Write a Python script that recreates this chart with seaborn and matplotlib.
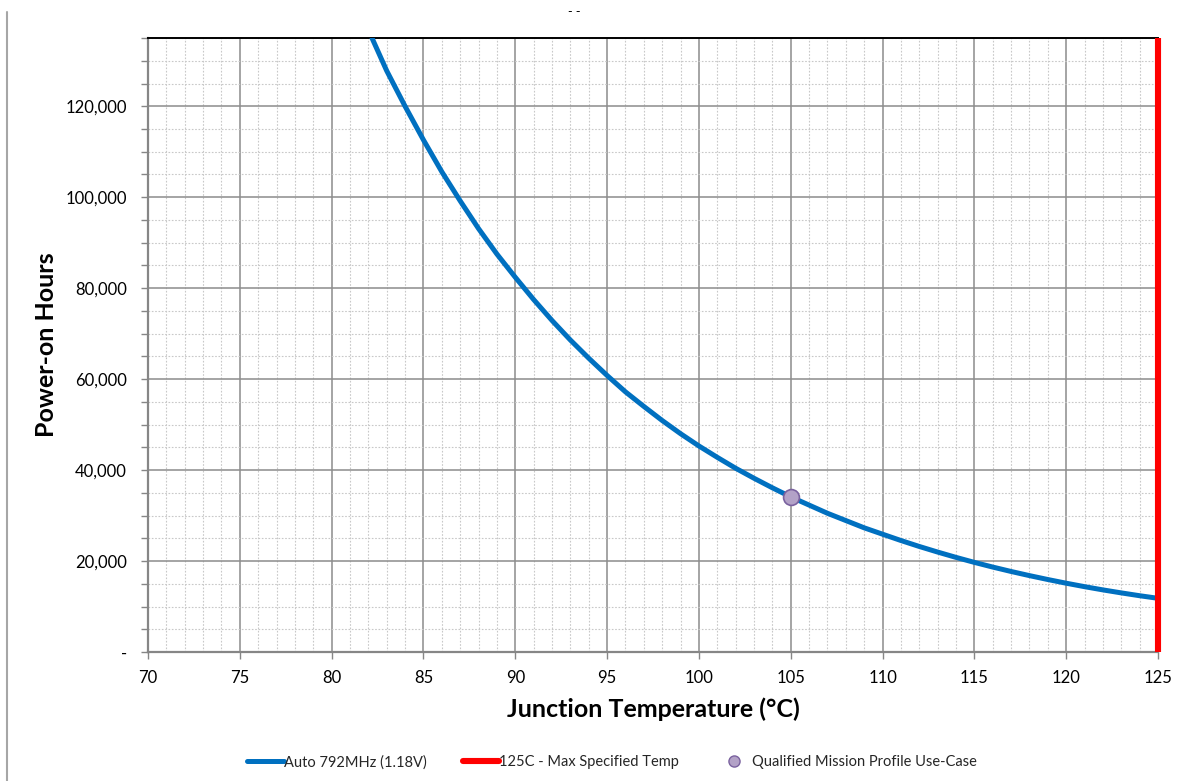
import matplotlib
matplotlib.use("Agg")
import matplotlib.pyplot as plt
import seaborn as sns
import pandas as pd
from matplotlib.ticker import MultipleLocator, FuncFormatter
from matplotlib.lines import Line2D

# ---- data ----
temps = [82.2, 83, 84, 85, 86, 87, 88, 89, 90, 91, 92, 93, 94, 95, 96, 97, 98, 99,
         100, 101, 102, 103, 104, 105, 106, 107, 108, 109, 110, 111, 112, 113, 114,
         115, 116, 117, 118, 119, 120, 121, 122, 123, 124, 125]
hours = [135000, 127800, 120000, 112600, 105600, 99200, 93100, 87500, 82400, 77500,
         72900, 68600, 64600, 60800, 57200, 54000, 50900, 48000, 45300, 42800, 40400,
         38200, 36100, 34100, 32300, 30500, 28900, 27300, 25900, 24510, 23200, 21970,
         20800, 19700, 18670, 17700, 16790, 15930, 15120, 14360, 13650, 12990, 12370,
         11800]
max_temp_x = [125, 125]
max_temp_y = [0, 135000]
mission_x = [105]
mission_y = [34100]
series_names = ["Auto 792MHz (1.18V)", "125C - Max Specified Temp",
                "Qualified Mission Profile Use-Case"]
x_label = "Junction Temperature (°C)"
y_label = "Power-on Hours"

sns.set_theme(style="white")
plt.rcParams['font.family'] = ['Lato', 'DejaVu Sans']

fig = plt.figure(figsize=(11.77, 7.81), dpi=100)
ax = fig.add_axes([0.1257, 0.1652, 0.8582, 0.7861])

curve = pd.DataFrame({"t": temps, "h": hours})
sns.lineplot(data=curve, x="t", y="h", ax=ax, color="#0070C0", linewidth=3.6,
             label=series_names[0], zorder=4, sort=True)
n_before = len(ax.lines)
sns.lineplot(x=max_temp_x, y=max_temp_y, ax=ax, color="#FF0000", linewidth=4.4,
             label=series_names[1], zorder=5, estimator=None, sort=False)
for ln in ax.lines[n_before:]:
    ln.set_clip_on(False)
    ln.set_solid_capstyle("butt")
sns.scatterplot(x=mission_x, y=mission_y, ax=ax, s=130, color="#B3A2C7",
                edgecolor="#7A629F", linewidth=1.2, label=series_names[2], zorder=6)

ax.set_xlim(70, 125)
ax.set_ylim(0, 135000)
ax.xaxis.set_major_locator(MultipleLocator(5))
ax.xaxis.set_minor_locator(MultipleLocator(1))
ax.yaxis.set_major_locator(MultipleLocator(20000))
ax.yaxis.set_minor_locator(MultipleLocator(5000))
ax.yaxis.set_major_formatter(FuncFormatter(lambda v, p: "-" if v == 0 else f"{int(v):,}"))

ax.grid(which="major", color="#8C8C8C", linewidth=1.1, linestyle="-", zorder=1)
ax.grid(which="minor", color="#C8C8C8", linewidth=0.8, linestyle=(0, (1.5, 1.5)), zorder=0)
ax.set_axisbelow(True)

for side in ["left", "bottom"]:
    ax.spines[side].set_color("#868686")
    ax.spines[side].set_linewidth(1.6)
ax.spines["top"].set_color("#000000")
ax.spines["top"].set_linewidth(1.4)
ax.spines["right"].set_visible(False)

ax.tick_params(axis="x", which="major", direction="out", length=5, width=1,
               color="#868686", labelsize=12, pad=8, bottom=True)
ax.tick_params(axis="x", which="minor", length=0)
ax.tick_params(axis="y", which="major", direction="out", length=5, width=1,
               color="#868686", labelsize=12, pad=10, left=True)
ax.tick_params(axis="y", which="minor", direction="out", length=5, width=1,
               color="#868686", left=True)
for lbl in ax.get_xticklabels() + ax.get_yticklabels():
    lbl.set_color("#000000")

ax.set_xlabel(x_label, fontsize=18, fontweight="bold", labelpad=8, color="#000000")
ax.set_ylabel(y_label, fontsize=18, fontweight="bold", color="#000000")
ax.yaxis.set_label_coords(-0.089, 0.5)

ax.get_legend().remove()
handles = [Line2D([], [], color="#0070C0", linewidth=3.6),
           Line2D([], [], color="#FF0000", linewidth=4.4),
           Line2D([], [], linestyle="none", marker="o", markersize=8,
                  markerfacecolor="#B3A2C7", markeredgecolor="#7A629F")]
fig.legend(handles, series_names, loc="center", bbox_to_anchor=(0.52, 0.024), ncol=3,
           frameon=False, fontsize=10.5, handlelength=2.5, handletextpad=0.0,
           columnspacing=2.5)

fig.text(0.488, 0.985, "- -", fontsize=9, ha="center", va="center", color="#000000")
fig.add_artist(Line2D([0.006, 0.006], [0.0, 0.985], transform=fig.transFigure,
                      color="#A6A6A6", linewidth=1.5))

fig.savefig("out.png", dpi=100)
